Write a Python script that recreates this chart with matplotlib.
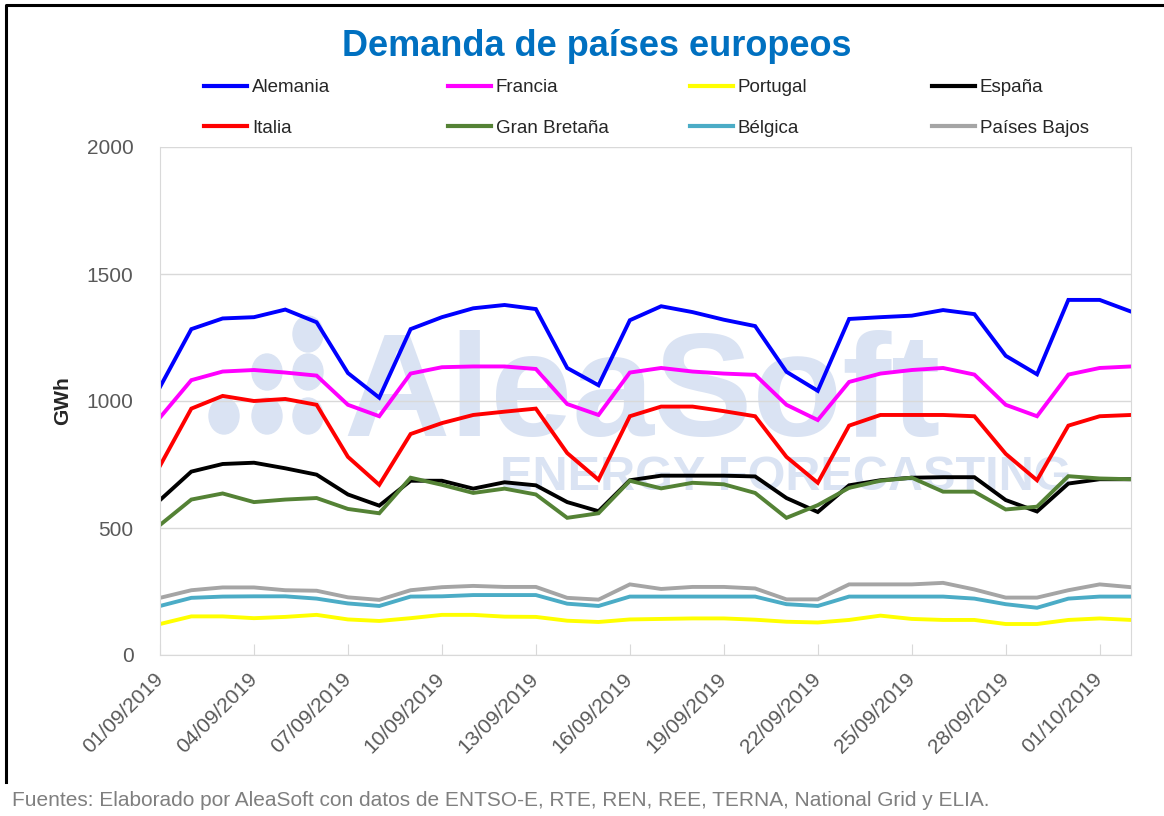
import matplotlib
matplotlib.use("Agg")
import matplotlib.pyplot as plt
import matplotlib.dates as mdates
from matplotlib.patches import Ellipse
from matplotlib.lines import Line2D
import pandas as pd

plt.rcParams['font.family'] = ['Liberation Sans', 'DejaVu Sans']

# Daily demand, GWh, 01/09/2019 - 02/10/2019
dates = pd.date_range("2019-09-01", "2019-10-02", freq="D")

alemania = [1055, 1283, 1325, 1330, 1360, 1310, 1110, 1013, 1283, 1330, 1365, 1378, 1362, 1130, 1062, 1318,
            1373, 1350, 1320, 1295, 1115, 1040, 1323, 1330, 1336, 1358, 1342, 1178, 1105, 1398, 1398, 1352]
francia = [935, 1082, 1116, 1122, 1112, 1100, 985, 940, 1108, 1133, 1136, 1136, 1126, 988, 945, 1112,
           1130, 1116, 1108, 1103, 985, 925, 1075, 1108, 1122, 1130, 1104, 985, 940, 1104, 1130, 1136]
portugal = [122, 152, 152, 145, 150, 158, 140, 134, 145, 158, 158, 151, 150, 135, 130, 140,
            142, 144, 144, 139, 131, 128, 138, 155, 142, 138, 138, 122, 122, 138, 144, 138]
espana = [610, 722, 752, 757, 735, 710, 632, 588, 686, 686, 655, 680, 668, 602, 566, 688,
          706, 706, 706, 703, 618, 563, 668, 688, 698, 700, 700, 610, 565, 675, 692, 692]
italia = [745, 970, 1020, 1000, 1008, 985, 780, 670, 870, 913, 945, 958, 970, 795, 690, 940,
          978, 978, 960, 940, 780, 678, 903, 945, 945, 945, 940, 792, 688, 903, 940, 945]
gran_bretana = [512, 612, 636, 602, 612, 618, 575, 558, 698, 670, 638, 655, 632, 540, 558, 686,
                656, 678, 672, 638, 540, 590, 658, 686, 698, 643, 643, 573, 584, 704, 695, 692]
belgica = [193, 225, 230, 231, 231, 222, 203, 193, 230, 231, 236, 236, 236, 202, 193, 230,
           230, 230, 230, 230, 200, 193, 230, 230, 230, 230, 222, 200, 186, 222, 230, 230]
paises_bajos = [225, 255, 266, 266, 255, 253, 227, 217, 255, 267, 272, 268, 268, 225, 218, 278,
                260, 268, 268, 262, 219, 219, 278, 278, 278, 284, 258, 226, 226, 255, 278, 267]

series = [
    ("Alemania", alemania, "#0000FF"),
    ("Francia", francia, "#FF00FF"),
    ("Portugal", portugal, "#FFFF00"),
    ("España", espana, "#000000"),
    ("Italia", italia, "#FF0000"),
    ("Gran Bretaña", gran_bretana, "#548235"),
    ("Bélgica", belgica, "#4BACC6"),
    ("Países Bajos", paises_bajos, "#A5A5A5"),
]

W, H = 1164, 816
fig = plt.figure(figsize=(W / 100, H / 100), dpi=100)
ax = fig.add_axes([160 / W, 1 - 655 / H, (1131 - 160) / W, (655 - 147) / H])

def fx(px):
    return px / W

def fy(py):
    return 1 - py / H

# watermark
wm = "#DAE3F3"
ax.text(fx(343), fy(436), "AleaSoft", transform=fig.transFigure, fontsize=106, fontweight="bold",
        color=wm, ha="left", va="baseline", zorder=0.1)
ax.text(fx(500), fy(490), "ENERGY FORECASTING", transform=fig.transFigure, fontsize=35, fontweight="bold",
        color=wm, ha="left", va="baseline", zorder=0.1)
for dx, dy in [(308, 334), (267, 372), (308, 372), (224, 416), (267, 416), (308, 416)]:
    ax.add_patch(Ellipse((fx(dx), fy(dy)), 30 / W, 36 / H, transform=fig.transFigure,
                         color=wm, zorder=0.1, clip_on=False))

for name, vals, col in series:
    ax.plot(dates, vals, color=col, lw=2.8, label=name, solid_joinstyle="miter", zorder=2)

ax.set_ylim(0, 2000)
ax.set_yticks([0, 500, 1000, 1500, 2000])
ax.set_xlim(dates[0], dates[-1])
ax.xaxis.set_major_locator(mdates.DayLocator(bymonthday=[1, 4, 7, 10, 13, 16, 19, 22, 25, 28]))
ax.xaxis.set_major_formatter(mdates.DateFormatter("%d/%m/%Y"))
ax.set_axisbelow(True)
ax.grid(axis="y", color="#D9D9D9", lw=1)
for s in ax.spines.values():
    s.set_color("#D9D9D9")
ax.spines["top"].set_visible(False)

ax.tick_params(axis="x", direction="in", length=8, color="#D9D9D9", labelsize=15, labelcolor="#595959", pad=15)
ax.tick_params(axis="y", length=0, labelsize=15, labelcolor="#595959", pad=19)
for lab in ax.get_xticklabels():
    lab.set_rotation(45)
    lab.set_ha("right")
    lab.set_va("center")
    lab.set_rotation_mode("anchor")

ax.set_ylabel("GWh", fontsize=15, fontweight="bold", color="#262626")
ax.yaxis.set_label_coords(-0.09, 0.5)

# title
fig.text(0.513, fy(46), "Demanda de países europeos", ha="center", va="center",
         fontsize=26, fontweight="bold", color="#0070C0")

# legend: four columns of two entries
handles = {name: Line2D([], [], color=col, lw=3) for name, _, col in series}
cols = [(204, ["Alemania", "Italia"]), (448, ["Francia", "Gran Bretaña"]),
        (690, ["Portugal", "Bélgica"]), (932, ["España", "Países Bajos"])]
for x0, names in cols:
    fig.legend([handles[n] for n in names], names, loc="upper left", bbox_to_anchor=(fx(x0), fy(79)),
               frameon=False, fontsize=13.5, handlelength=2.3, handletextpad=0.25, labelspacing=1.25,
               borderpad=0, borderaxespad=0, labelcolor="#262626")

# frame and footer
fig.add_artist(Line2D([fx(6), fx(6), fx(1164)], [fy(782), fy(5), fy(5)], color="black", lw=2.2,
                      transform=fig.transFigure))
fig.text(fx(12), fy(801), "Fuentes: Elaborado por AleaSoft con datos de ENTSO-E, RTE, REN, REE, TERNA, National Grid y ELIA.",
         ha="left", va="center", fontsize=15, color="#7F7F7F")

fig.savefig("out.png", dpi=100)
